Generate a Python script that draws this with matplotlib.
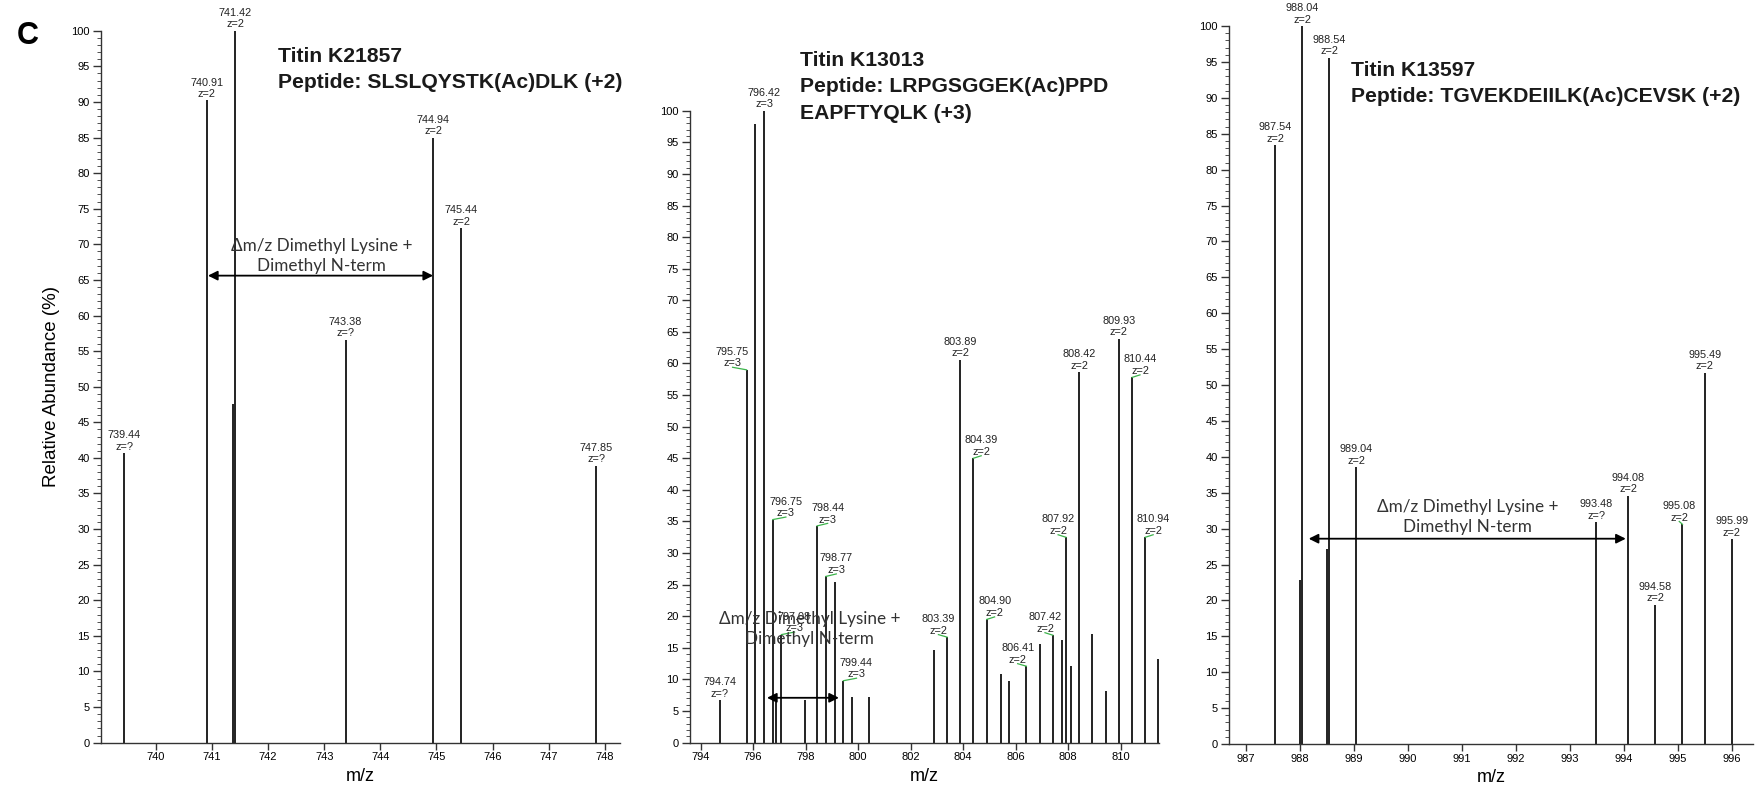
import matplotlib
matplotlib.use("Agg")
import matplotlib.pyplot as plt
from matplotlib.ticker import MultipleLocator

plt.rcParams['font.family'] = ['Liberation Sans', 'DejaVu Sans']

# panel 1: Titin K21857
p1_mz = [739.44, 740.91, 741.38, 741.42, 743.38, 744.94, 745.44, 747.85]
p1_int = [40.7, 90.2, 47.5, 100.0, 56.6, 85.0, 72.3, 38.9]
p1_z = ['?', '2', None, '2', '?', '2', '2', '?']
p1_ticks = [740, 741, 742, 743, 744, 745, 746, 747, 748]

# panel 2: Titin K13013
p2_mz = [794.74, 795.75, 796.08, 796.42, 796.75, 796.88, 797.08, 797.98, 798.44,
         798.77, 799.11, 799.44, 799.77, 800.41, 802.90, 803.39, 803.89, 804.39,
         804.90, 805.43, 805.75, 806.41, 806.92, 807.42, 807.76, 807.92, 808.10,
         808.42, 808.93, 809.43, 809.93, 810.44, 810.94, 811.42]
p2_int = [6.7, 59.0, 97.9, 100.0, 35.3, 6.4, 17.1, 6.7, 34.3,
          26.3, 25.5, 9.8, 7.3, 7.3, 14.6, 16.7, 60.6, 45.0,
          19.5, 10.8, 9.8, 12.1, 15.6, 17.0, 16.2, 32.5, 12.1,
          58.6, 17.2, 8.2, 63.9, 57.8, 32.5, 13.3]
p2_z = ['?', '3', None, '3', '3', None, '3', None, '3',
        '3', None, '3', None, None, None, '2', '2', '2',
        '2', None, None, '2', None, '2', None, '2', None,
        '2', None, None, '2', '2', '2', None]
p2_ticks = [794, 796, 798, 800, 802, 804, 806, 808, 810]

# panel 3: Titin K13597
p3_mz = [987.54, 988.00, 988.04, 988.50, 988.54, 989.04, 993.48, 994.08, 994.58,
         995.08, 995.49, 995.99]
p3_int = [83.4, 22.9, 100.0, 27.1, 95.6, 38.6, 30.9, 34.6, 19.4, 30.6, 51.7, 28.5]
p3_z = ['2', None, '2', None, '2', '2', '?', '2', '2', '2', '2', '2']
p3_ticks = [987, 988, 989, 990, 991, 992, 993, 994, 995, 996]

titles = [
    ["Titin K21857", "Peptide: SLSLQYSTK(Ac)DLK (+2)"],
    ["Titin K13013", "Peptide: LRPGSGGEK(Ac)PPD", "EAPFTYQLK (+3)"],
    ["Titin K13597", "Peptide: TGVEKDEIILK(Ac)CEVSK (+2)"],
]
delta_text = "\u0394m/z Dimethyl Lysine +\nDimethyl N-term"

# label offsets (m/z units) where the label sits beside its peak
p2_shift = {795.75: -0.53, 796.75: 0.5, 797.08: 0.5, 798.44: 0.4, 798.77: 0.4,
            799.44: 0.5, 803.39: -0.33, 804.39: 0.3, 804.90: 0.3, 806.41: -0.33,
            807.42: -0.3, 807.92: -0.3, 810.44: 0.3, 810.94: 0.3}
p3_shift = {995.08: -0.06}

fig = plt.figure(figsize=(17.55, 7.92), dpi=100)


def spectrum(rect, mz, inten, zs, ticks, xlim, shift, ylabel=False):
    ax = fig.add_axes(rect)
    ax.vlines(mz, 0, inten, color='#111111', lw=1.3)
    for m, h, z in zip(mz, inten, zs):
        if z is None:
            continue
        dx = shift.get(m, 0.0)
        if dx:
            ax.plot([m, m + dx], [h, h + 0.4], color='#3cb44b', lw=0.9,
                    clip_on=False)
        ax.annotate(f"{m:.2f}\nz={z}", xy=(m + dx, h), xytext=(0, 1.0),
                    textcoords='offset points', ha='center', va='bottom',
                    fontsize=7.8, color='#222222', linespacing=1.2,
                    annotation_clip=False)
    ax.set_xlim(*xlim)
    ax.set_ylim(0, 100)
    ax.set_xticks(ticks)
    ax.yaxis.set_major_locator(MultipleLocator(5))
    ax.yaxis.set_minor_locator(MultipleLocator(1))
    for s in ['top', 'right']:
        ax.spines[s].set_visible(False)
    for s in ['left', 'bottom']:
        ax.spines[s].set_color('#333333')
        ax.spines[s].set_linewidth(1.0)
    ax.tick_params(axis='both', which='major', labelsize=8, direction='out',
                   color='#333333', width=1.0, pad=2)
    ax.tick_params(axis='y', which='major', length=6)
    ax.tick_params(axis='y', which='minor', length=3, color='#333333')
    ax.tick_params(axis='x', which='major', length=5)
    ax.set_xlabel('m/z', fontsize=13, labelpad=4)
    if ylabel:
        ax.set_ylabel('Relative Abundance (%)', fontsize=13.5, labelpad=8)
    return ax


def delta_arrow(ax, x0, x1, y, tx, ty):
    ax.annotate('', xy=(x1, y), xytext=(x0, y),
                arrowprops=dict(arrowstyle='<|-|>', color='black', lw=1.3,
                                mutation_scale=14, shrinkA=0, shrinkB=0))
    ax.text(tx, ty, delta_text, ha='center', va='center', fontsize=12.3,
            family=['Lato', 'DejaVu Sans'], fontweight='normal',
            color='#333333', linespacing=1.3)


ax1 = spectrum([0.0574, 0.0623, 0.2959, 0.8989], p1_mz, p1_int, p1_z, p1_ticks,
               (739.02, 748.27), {}, ylabel=True)
delta_arrow(ax1, 740.93, 744.94, 65.6, 742.95, 68.4)

ax2 = spectrum([0.3932, 0.0623, 0.2670, 0.7979], p2_mz, p2_int, p2_z, p2_ticks,
               (793.6, 811.45), p2_shift)
delta_arrow(ax2, 796.53, 799.27, 7.1, 798.15, 18.0)

ax3 = spectrum([0.7003, 0.0606, 0.2984, 0.9064], p3_mz, p3_int, p3_z, p3_ticks,
               (986.685, 996.38), p3_shift)
delta_arrow(ax3, 988.16, 994.03, 28.6, 991.1, 31.6)

# panel titles, placed in figure pixels
title_pos = [(277.6, 56.5), (800.0, 60.5), (1351.0, 70.0)]
for (x, y), lines in zip(title_pos, titles):
    for i, line in enumerate(lines):
        fig.text(x / 1755, 1 - (y + 26.5 * i) / 792, line, fontsize=15.2,
                 fontweight='bold', color='#1a1a1a', ha='left', va='center')

fig.text(28 / 1755, 1 - 36 / 792, 'C', fontsize=22, fontweight='bold',
         ha='center', va='center')

fig.savefig('out.png', dpi=100)
